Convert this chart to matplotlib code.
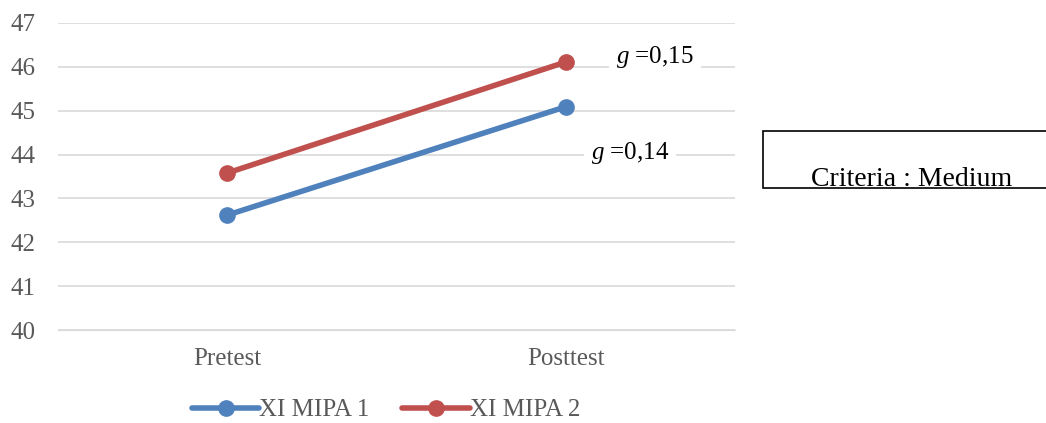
import matplotlib
matplotlib.use("Agg")
import matplotlib.pyplot as plt
from matplotlib.patches import Rectangle

categories = ["Pretest", "Posttest"]
mipa1 = [42.62, 45.09]
mipa2 = [43.58, 46.11]
series_names = ["XI MIPA 1", "XI MIPA 2"]
g_labels = ["0,15", "0,14"]
criteria = "Criteria : Medium"

plt.rcParams['font.family'] = ['Liberation Serif', 'DejaVu Serif']
plt.rcParams['mathtext.fontset'] = 'custom'
plt.rcParams['mathtext.it'] = 'Liberation Serif:italic'
plt.rcParams['mathtext.rm'] = 'Liberation Serif'

FS = 18

fig = plt.figure(figsize=(10.46, 4.23), dpi=100)
ax = fig.add_axes([58/1046, 1 - 330/423, (735-58)/1046, (330-23)/423])

x = list(range(len(categories)))
ax.plot(x, mipa1, color='#4f81bd', lw=4, marker='o', ms=11, label=series_names[0], solid_capstyle='round', zorder=3)
ax.plot(x, mipa2, color='#c0504d', lw=4, marker='o', ms=11, label=series_names[1], solid_capstyle='round', zorder=3)

ax.set_xlim(-0.5, 1.5)
ax.set_ylim(40, 47)
ax.set_yticks(range(40, 48))
ax.set_xticks(x)
ax.set_xticklabels(categories)
ax.grid(axis='y', color='#d9d9d9', lw=1.2)
ax.set_axisbelow(True)
for s in ['top', 'right', 'left']:
    ax.spines[s].set_visible(False)
ax.spines['bottom'].set_color('#d9d9d9')
ax.tick_params(length=0, labelsize=FS, colors='#595959')
ax.tick_params(axis='x', pad=13)
ax.tick_params(axis='y', pad=16)

bbox = dict(facecolor='white', edgecolor='none', pad=5)
fig.text(655/1046, 1 - 57/423, r"$g$ =" + g_labels[0], fontsize=FS, ha='center', va='center', bbox=bbox, color='black')
fig.text(630/1046, 1 - 153/423, r"$g$ =" + g_labels[1], fontsize=FS, ha='center', va='center', bbox=bbox, color='black')

rect = Rectangle((763/1046, 1 - 188/423), (1050-763)/1046, (188-131)/423, transform=fig.transFigure,
                 facecolor='white', edgecolor='black', lw=1.2, clip_on=False)
fig.patches.append(rect)
t = fig.text(912/1046, 1 - 179/423, criteria, fontsize=20, ha='center', va='center', color='black')
t.set_clip_path(rect)

leg = ax.legend(loc='center', bbox_to_anchor=(386/1046, 1 - 410/423), bbox_transform=fig.transFigure,
                ncol=2, frameon=False, fontsize=FS, handlelength=2.7, handletextpad=0.0, columnspacing=1.3)
for txt in leg.get_texts():
    txt.set_color('#595959')

fig.savefig("out.png", dpi=100)
